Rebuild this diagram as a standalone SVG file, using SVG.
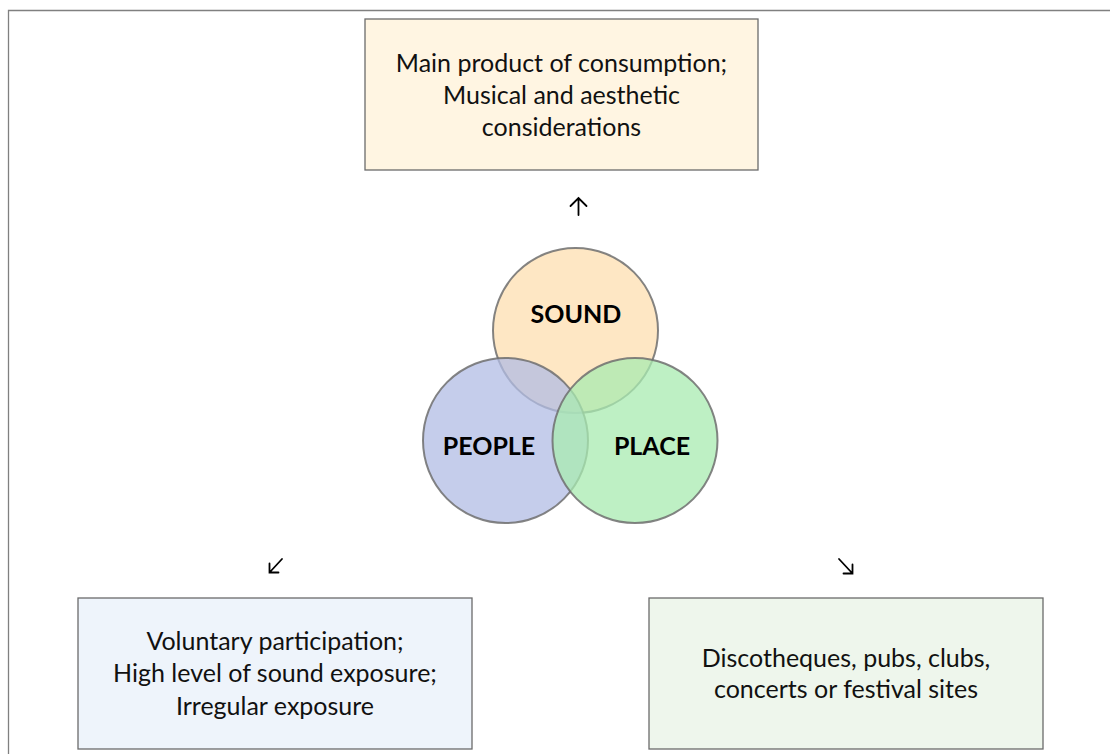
<svg xmlns="http://www.w3.org/2000/svg" width="1110" height="754" viewBox="0 0 1110 754">
<style>
.box{stroke:#6b6b6b;stroke-width:1.3}
.txt{font-family:Lato,"Open Sans",sans-serif;font-size:25px;fill:#111;text-anchor:middle}
.lbl{font-family:Lato,"Open Sans",sans-serif;font-size:25px;font-weight:bold;fill:#000;text-anchor:middle}
.circ{stroke:#6e6e6e;stroke-width:2;stroke-opacity:0.85}
.arr{fill:none;stroke:#000;stroke-width:1.8;stroke-linecap:round;stroke-linejoin:miter}
</style>
<rect x="0" y="0" width="1110" height="754" fill="#fff"/>
<path d="M8.5 754 V10.5 H1110" fill="none" stroke="#808080" stroke-width="1.3"/>
<g id="top-box">
<rect class="box" x="365" y="19" width="393" height="151" fill="#fff5e2"/>
<text class="txt" x="561.5" y="72">Main product of consumption;</text>
<text class="txt" x="561.5" y="104">Musical and aesthetic</text>
<text class="txt" x="561.5" y="136">considerations</text>
</g>
<g id="venn">
<g id="sound">
<circle class="circ" cx="575.5" cy="330.5" r="82.5" fill="rgb(254,223,176)" fill-opacity="0.75"/>
</g>
<g id="people">
<circle class="circ" cx="505.5" cy="440.5" r="82.5" fill="rgb(178,188,228)" fill-opacity="0.75"/>
</g>
<g id="place">
<circle class="circ" cx="635" cy="440.5" r="82.5" fill="rgb(168,235,176)" fill-opacity="0.75"/>
</g>
<text class="lbl" x="576" y="323">SOUND</text>
<text class="lbl" x="489" y="455">PEOPLE</text>
<text class="lbl" x="652" y="455">PLACE</text>
</g>
<g id="left-box">
<rect class="box" x="78" y="598" width="394" height="151" fill="#eef4fb"/>
<text class="txt" x="275" y="650">Voluntary participation;</text>
<text class="txt" x="275" y="682">High level of sound exposure;</text>
<text class="txt" x="275" y="715">Irregular exposure</text>
</g>
<g id="right-box">
<rect class="box" x="649" y="598" width="394" height="151" fill="#eef6ec"/>
<text class="txt" x="846" y="667">Discotheques, pubs, clubs,</text>
<text class="txt" x="846" y="698">concerts or festival sites</text>
</g>
<g id="connectors">
<path class="arr" d="M578.5 215 V198 M570.5 206 L578.5 198 L586.5 206"/>
<path class="arr" d="M282 559 L269.5 572.5 M269.5 563.5 V572.5 H278.5"/>
<path class="arr" d="M839 559 L852.5 573.5 M852.5 564.5 V573.5 H843.5"/>
</g>
</svg>
